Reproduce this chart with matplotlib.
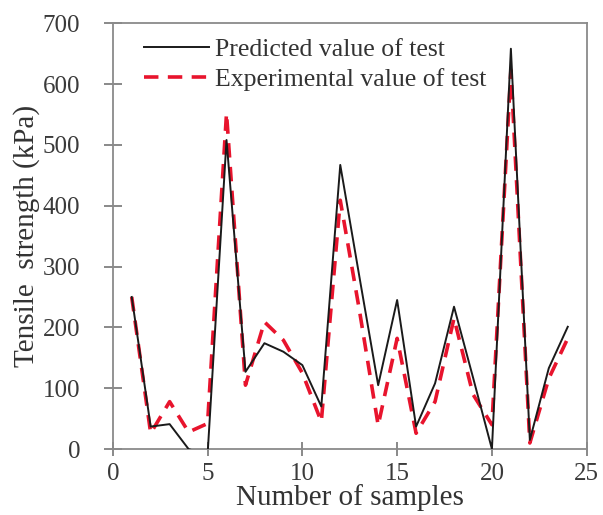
import matplotlib
matplotlib.use("Agg")
import matplotlib.pyplot as plt

samples = list(range(1, 25))
predicted = [250, 37, 41, 0, -10, 508, 127, 174, 160, 138, 70, 467, 285, 105,
             245, 37, 108, 234, 118, 0, 658, 15, 133, 201]
experimental = [250, 26, 78, 28, 42, 552, 105, 209, 179, 125, 45, 409, 230, 39,
                182, 26, 78, 215, 90, 40, 623, 10, 116, 182]

label_pred = "Predicted value of test"
label_exp = "Experimental value of test"
xticks = [0, 5, 10, 15, 20, 25]
yticks = [0, 100, 200, 300, 400, 500, 600, 700]

plt.rcParams['font.family'] = ['Liberation Serif', 'DejaVu Serif']

fig = plt.figure(figsize=(6.03, 5.15), dpi=100)
ax = fig.add_axes([0.187, 0.128, 0.786, 0.827])

ax.plot(samples, predicted, color='#1a1a1a', lw=1.4, label=label_pred, zorder=3)
ax.plot(samples, experimental, color='#e8142d', lw=2.6, ls=(0, (4, 2.6)),
        label=label_exp, zorder=2)

ax.set_xlim(0, 25)
ax.set_ylim(0, 700)
ax.set_xticks(xticks)
ax.set_yticks(yticks)

for s in ax.spines.values():
    s.set_color('#8a8a8a')
    s.set_linewidth(1.3)

ax.tick_params(axis='y', direction='inout', length=13, width=1.1, color='#6a6a6a',
               labelsize=18, labelcolor='#3a3a3a', pad=17)
ax.tick_params(axis='x', direction='inout', length=10, width=1.1, color='#6a6a6a',
               labelsize=18, labelcolor='#3a3a3a', pad=5)

ax.set_xlabel("Number of samples", fontsize=21, color='#333333', labelpad=-1)
ax.set_ylabel("Tensile  strength (kPa)", fontsize=21, color='#333333', labelpad=2)

leg = ax.legend(loc='upper left', bbox_to_anchor=(0.045, 0.99), frameon=False,
                fontsize=18.5, handlelength=2.5, handletextpad=0.25,
                labelspacing=0.3, borderaxespad=0.0)
for t in leg.get_texts():
    t.set_color('#333333')

fig.savefig("out.png", dpi=100, facecolor='white')
